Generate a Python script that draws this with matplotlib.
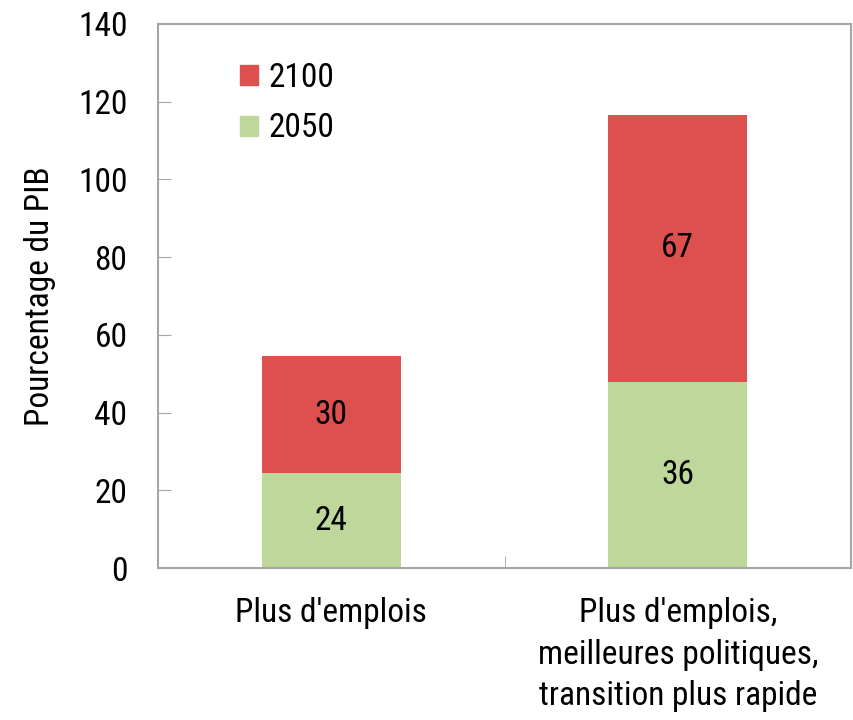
import matplotlib
matplotlib.use("Agg")
import matplotlib.pyplot as plt
from matplotlib.patches import Patch

plt.rcParams['font.family'] = ['Roboto Condensed', 'Archivo Narrow', 'Liberation Sans', 'DejaVu Sans']

categories = ["Plus d'emplois", "Plus d'emplois,\nmeilleures politiques,\ntransition plus rapide"]
vals_2050 = [24.4, 47.9]
vals_2100 = [30.2, 68.7]
labels_2050 = ["24", "36"]
labels_2100 = ["30", "67"]

red = '#DD504E'
green = '#BED89B'
grey = '#A6A6A6'
fs = 24

fig = plt.figure(figsize=(8.54, 7.2), dpi=100)
ax = fig.add_axes([0.185, 0.211, 0.8115, 0.7557])

x = range(len(categories))
ax.bar(x, vals_2050, width=0.4, color=green)
ax.bar(x, vals_2100, width=0.4, bottom=vals_2050, color=red)

for i in x:
    ax.text(i, vals_2050[i] / 2, labels_2050[i], ha='center', va='center', fontsize=fs)
    ax.text(i, vals_2050[i] + vals_2100[i] / 2, labels_2100[i], ha='center', va='center', fontsize=fs)

ax.set_xlim(-0.5, 1.5)
ax.set_ylim(0, 140)
ax.set_yticks(range(0, 141, 20))
ax.tick_params(axis='y', direction='in', length=9, color=grey, labelsize=fs, pad=22)

ax.set_xticks(list(x))
ax.set_xticklabels(categories, fontsize=fs, linespacing=1.38)
ax.tick_params(axis='x', length=0, pad=21)
# separator tick between the two categories
ax.set_xticks([0.5], minor=True)
ax.tick_params(axis='x', which='minor', direction='in', length=9, color=grey)

for s in ax.spines.values():
    s.set_color(grey)
    s.set_linewidth(1.5)

ax.set_ylabel('Pourcentage du PIB', fontsize=fs, labelpad=16)

handles = [Patch(color=red, label='2100'), Patch(color=green, label='2050')]
ax.legend(handles=handles, loc='upper left', bbox_to_anchor=(0.075, 0.985), frameon=False,
          fontsize=fs, handlelength=0.55, handleheight=0.55, handletextpad=0.3, labelspacing=0.55)

fig.savefig('out.png', dpi=100)
